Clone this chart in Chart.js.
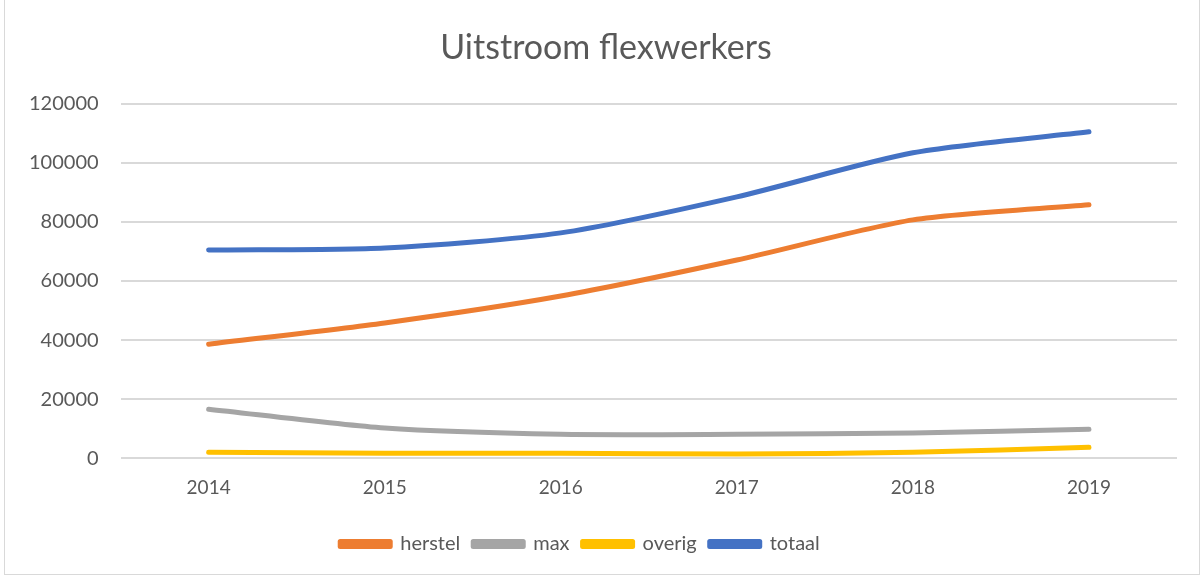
<!DOCTYPE html>
<html>
<head>
<meta charset="utf-8">
<script src="https://cdn.jsdelivr.net/npm/chart.js@4"></script>
<style>
    html, body { margin: 0; padding: 0; background: #ffffff; }
    .frame {
        position: absolute;
        left: 4px;
        top: 0;
        width: 1196px;
        height: 575px;
        border: 1px solid #d9d9d9;
        border-top: none;
        box-sizing: border-box;
    }
    canvas { display: block; }
</style>
</head>
<body>
<div class="frame">
    <canvas id="chart" width="1194" height="574"></canvas>
</div>
<script>
const years = ['2014', '2015', '2016', '2017', '2018', '2019'];
const herstel = [38600, 45800, 54900, 67100, 80700, 85800];
const max = [16600, 10200, 8100, 8100, 8500, 9800];
const overig = [2000, 1700, 1700, 1400, 2000, 3700];
const totaal = [70500, 71200, 76300, 88500, 103400, 110500];
const yTicks = [0, 20000, 40000, 60000, 80000, 100000, 120000];

const textColor = '#595959';
const fontFamily = 'Lato, "Open Sans", sans-serif';

function series(label, data, color) {
    return {
        label,
        data,
        borderColor: color,
        backgroundColor: color,
        borderWidth: 5,
        borderCapStyle: 'round',
        borderJoinStyle: 'round',
        pointRadius: 0,
        pointHoverRadius: 0,
        tension: 0.25,
        fill: false,
    };
}

// Excel centres title and legend slightly differently from the chart width
const nudgeBlocks = {
    id: 'nudgeBlocks',
    afterLayout(chart) {
        if (chart.titleBlock) {
            chart.titleBlock.left += 14;
            chart.titleBlock.right += 14;
        }
        if (chart.legend) {
            chart.legend.left -= 12;
            chart.legend.right -= 12;
        }
    },
};

const canvas = document.getElementById('chart');

new Chart(canvas.getContext('2d'), {
    type: 'line',
    data: {
        labels: years,
        datasets: [
            series('herstel', herstel, '#ED7D31'),
            series('max', max, '#A5A5A5'),
            series('overig', overig, '#FFC000'),
            series('totaal', totaal, '#4472C4'),
        ],
    },
    plugins: [nudgeBlocks],
    options: {
        responsive: false,
        animation: false,
        layout: {
            padding: { left: 2, right: 22, top: 22, bottom: 10 },
        },
        plugins: {
            title: {
                display: true,
                text: 'Uitstroom flexwerkers',
                color: textColor,
                font: { family: fontFamily, size: 34, weight: 'normal' },
                padding: { top: 6, bottom: 35 },
            },
            legend: {
                position: 'bottom',
                labels: {
                    color: textColor,
                    font: { family: fontFamily, size: 20 },
                    boxWidth: 50,
                    boxHeight: 5,
                    padding: 13,
                },
            },
            tooltip: { enabled: false },
        },
        scales: {
            x: {
                offset: true,
                grid: { display: false },
                border: { display: false },
                ticks: {
                    color: textColor,
                    font: { family: fontFamily, size: 19 },
                    padding: 10,
                },
                afterFit(scale) {
                    scale.height += 12;
                },
            },
            y: {
                min: 0,
                max: 120000,
                afterBuildTicks(axis) {
                    axis.ticks = yTicks.map((value) => ({ value }));
                },
                grid: { color: '#d9d9d9', lineWidth: 2, drawTicks: false },
                border: { display: false },
                ticks: {
                    color: textColor,
                    font: { family: fontFamily, size: 20 },
                    padding: 22,
                    callback: (value) => String(value),
                },
            },
        },
    },
});
</script>
</body>
</html>
